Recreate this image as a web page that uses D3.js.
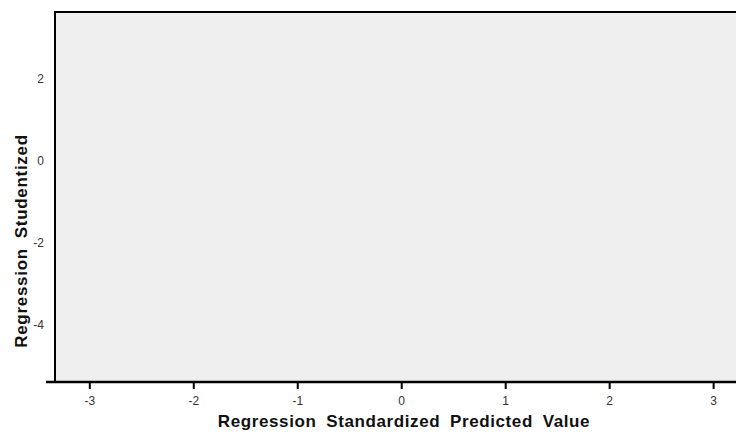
<!DOCTYPE html>
<html>
<head>
<meta charset="utf-8">
<script src="https://cdn.jsdelivr.net/npm/d3@7"></script>
<style>
  body { margin: 0; background: #fff; }
  text { font-family: "Liberation Sans", Arial, sans-serif; }
</style>
</head>
<body>
<div id="chart"></div>
<script>
// chart data: empty scatter, only the axes are readable
var xTicks = [-3, -2, -1, 0, 1, 2, 3];
var yTicks = [-4, -2, 0, 2];
var xDomain = [-3.33, 3.22];
var yDomain = [-5.39, 3.63];
var xTitle = 'Regression Standardized Predicted Value';
var yTitle = 'Regression Studentized';

var svgWidth = 736;
var svgHeight = 436;

var plot = { left: 55, top: 12, right: 736, bottom: 382 };

// plain hyphen instead of d3's unicode minus
var fmt = function(d) { return String(d); };

var svg = d3.select('#chart')
  .append('svg')
  .attr('width', svgWidth)
  .attr('height', svgHeight);

var xScale = d3.scaleLinear()
  .domain(xDomain)
  .range([plot.left, plot.right]);

var yScale = d3.scaleLinear()
  .domain(yDomain)
  .range([plot.bottom, plot.top]);

// plot background
svg.append('rect')
  .attr('x', plot.left)
  .attr('y', plot.top)
  .attr('width', plot.right - plot.left)
  .attr('height', plot.bottom - plot.top)
  .attr('fill', '#efefef');

// top frame line
svg.append('line')
  .attr('x1', plot.left)
  .attr('x2', plot.right)
  .attr('y1', plot.top)
  .attr('y2', plot.top)
  .attr('stroke', '#000')
  .attr('stroke-width', 2);

// left axis (labels only, no ticks)
var leftAxis = d3.axisLeft(yScale)
  .tickValues(yTicks)
  .tickFormat(fmt)
  .tickSize(0)
  .tickPadding(11);

var gy = svg.append('g')
  .attr('transform', `translate(${plot.left}, 0)`)
  .call(leftAxis);
gy.select('.domain').remove();
gy.selectAll('text')
  .attr('font-size', 12)
  .attr('font-family', '"Liberation Sans", Arial, sans-serif')
  .attr('fill', '#333');

svg.append('line')
  .attr('x1', plot.left)
  .attr('x2', plot.left)
  .attr('y1', plot.top - 1)
  .attr('y2', plot.bottom)
  .attr('stroke', '#000')
  .attr('stroke-width', 2);

// bottom axis
var bottomAxis = d3.axisBottom(xScale)
  .tickValues(xTicks)
  .tickFormat(fmt)
  .tickSizeInner(7)
  .tickSizeOuter(0)
  .tickPadding(7);

var gx = svg.append('g')
  .attr('transform', `translate(0, ${plot.bottom})`)
  .call(bottomAxis);
gx.select('.domain').remove();
gx.selectAll('.tick line')
  .attr('stroke', '#000')
  .attr('stroke-width', 2);
gx.selectAll('text')
  .attr('font-size', 12)
  .attr('font-family', '"Liberation Sans", Arial, sans-serif')
  .attr('fill', '#333');

svg.append('line')
  .attr('x1', 46)
  .attr('x2', plot.right)
  .attr('y1', plot.bottom)
  .attr('y2', plot.bottom)
  .attr('stroke', '#000')
  .attr('stroke-width', 2.5);

// axis titles
svg.append('text')
  .attr('x', 404)
  .attr('y', 427)
  .attr('text-anchor', 'middle')
  .attr('font-size', 17)
  .attr('font-weight', 'bold')
  .attr('letter-spacing', 0.6)
  .attr('word-spacing', 4.5)
  .attr('fill', '#111')
  .text(xTitle);

svg.append('text')
  .attr('transform', 'translate(27, 241) rotate(-90)')
  .attr('text-anchor', 'middle')
  .attr('font-size', 17)
  .attr('font-weight', 'bold')
  .attr('letter-spacing', 0.7)
  .attr('word-spacing', 4.5)
  .attr('fill', '#111')
  .text(yTitle);
</script>
</body>
</html>
